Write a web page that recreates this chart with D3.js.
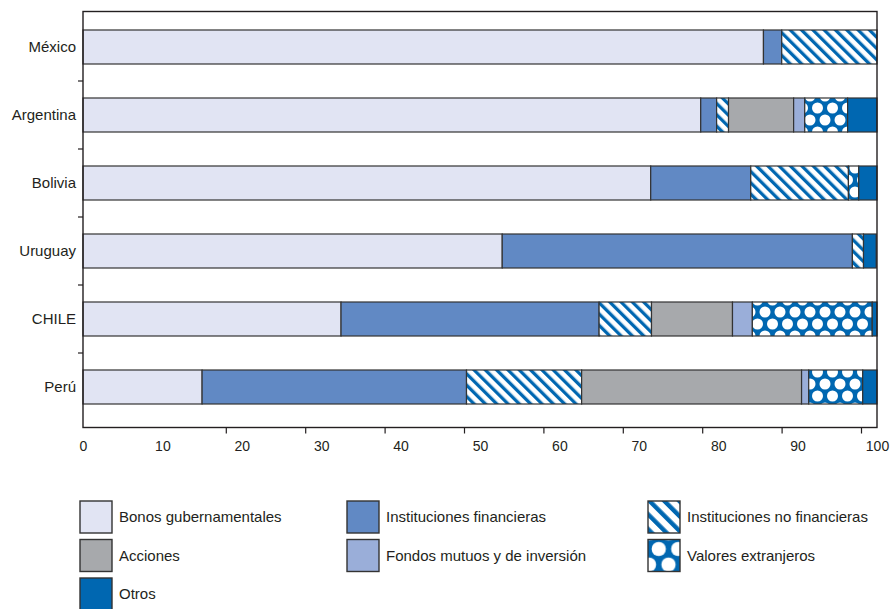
<!DOCTYPE html>
<html>
<head>
<meta charset="utf-8">
<script src="https://cdn.jsdelivr.net/npm/d3@7"></script>
<style>
  html, body { margin: 0; padding: 0; background: #fff; }
  svg { display: block; font-family: "Liberation Sans", Arial, Helvetica, sans-serif; }
</style>
</head>
<body>
<svg id="chart" width="893" height="609"></svg>
<script>
// ---- data ----
const categories = ["México", "Argentina", "Bolivia", "Uruguay", "CHILE", "Perú"];
const seriesNames = [
  "Bonos gubernamentales", "Instituciones financieras", "Instituciones no financieras",
  "Acciones", "Fondos mutuos y de inversión", "Valores extranjeros", "Otros"
];
const bonos         = [85.7, 77.8, 71.5, 52.8, 32.5, 15.0];
const financieras   = [ 2.3,  2.0, 12.6, 44.1, 32.5, 33.3];
const noFinancieras = [12.0,  1.5, 12.3,  1.4,  6.6, 14.5];
const acciones      = [ 0.0,  8.2,  0.0,  0.0, 10.2, 27.7];
const fondos        = [ 0.0,  1.4,  0.0,  0.0,  2.5,  0.9];
const valores       = [ 0.0,  5.4,  1.3,  0.0, 15.1,  6.8];
const otros         = [ 0.0,  3.8,  2.4,  1.6,  0.7,  1.8];
const tickLabels = [0, 10, 20, 30, 40, 50, 60, 70, 80, 90, 100];
const tickMarks  = [20, 30, 40, 50, 60, 70, 80, 90, 100];

(function () {
const seriesValues = [bonos, financieras, noFinancieras, acciones, fondos, valores, otros];
const table = categories.map((c, i) => {
  const row = { category: c };
  seriesNames.forEach((s, k) => row[s] = seriesValues[k][i]);
  return row;
});

// ---- styles ----
const fills = [
  "#e1e4f3", "#6189c4", "url(#stripes)", "#a7a9ac", "#9aaed9", "url(#dots)", "#0067b1"
];
const legendFills = fills.map(f => f === "url(#dots)" ? "url(#dotsLegend)"
  : f === "url(#stripes)" ? "url(#stripesLegend)" : f);
const edge = "#333";

const colX = [80, 347, 648];
const rowY = [501, 539.5, 578];
const sw = 32;

const svg = d3.select("#chart");
const defs = svg.append("defs");

// stripes patterns
function stripePattern(id, sp, w, ox, oy) {
  const p = defs.append("pattern")
    .attr("id", id).attr("patternUnits", "userSpaceOnUse")
    .attr("width", sp).attr("height", sp)
    .attr("patternTransform", `translate(${ox},${oy}) rotate(-45)`);
  p.append("rect").attr("width", sp).attr("height", sp).attr("fill", "#fff");
  p.append("rect").attr("width", w).attr("height", sp).attr("fill", "#0067b1");
}
stripePattern("stripes", 8, 3.3, 0, 0);
stripePattern("stripesLegend", 10.5, 4.4, colX[2], rowY[0]);

// dots patterns
function dotPattern(id, k, ox, oy) {
  const w = 15 * k, h = 24 * k;
  const p = defs.append("pattern")
    .attr("id", id).attr("patternUnits", "userSpaceOnUse")
    .attr("x", ox).attr("y", oy)
    .attr("width", w).attr("height", h);
  p.append("rect").attr("width", w).attr("height", h).attr("fill", "#0067b1");
  [[0,0],[w,0],[0,h],[w,h],[w/2,h/2]].forEach(([cx, cy]) =>
    p.append("circle").attr("cx", cx).attr("cy", cy).attr("r", 5.5 * k).attr("fill", "#fff"));
}
dotPattern("dots", 1, 0, 0);
const lk = 1.3;
dotPattern("dotsLegend", lk, colX[2] + sw / 2 - 7.5 * lk, rowY[1] + sw / 2 - 12 * lk);

// ---- scales ----
const pLeft = 83, pRight = 877, pTop = 11.5, pBottom = 427.5;
const x = d3.scaleLinear().domain([0, 100]).range([pLeft, pRight]);
const y = d3.scaleBand().domain(categories).range([13, 421])
  .paddingInner(0.5).paddingOuter(0.25);

const stack = d3.stack().keys(seriesNames)(table);

// bars
svg.append("g").selectAll("g").data(stack).join("g")
  .attr("fill", (d, i) => fills[i])
  .selectAll("rect").data(d => d.filter(p => p[1] - p[0] > 0)).join("rect")
  .attr("x", d => x(d[0]))
  .attr("width", d => Math.min(x(d[1]), pRight) - x(d[0]))
  .attr("y", d => y(d.data.category))
  .attr("height", y.bandwidth())
  .attr("stroke", edge).attr("stroke-width", 1.2);

// frame
svg.append("rect")
  .attr("x", pLeft).attr("y", pTop)
  .attr("width", pRight - pLeft).attr("height", pBottom - pTop)
  .attr("fill", "none").attr("stroke", "#231f20").attr("stroke-width", 1.4);

// category labels
svg.append("g").selectAll("text").data(categories).join("text")
  .attr("x", 76)
  .attr("y", d => y(d) + y.bandwidth() / 2)
  .attr("dy", "0.35em")
  .attr("text-anchor", "end")
  .attr("font-size", 15)
  .attr("fill", "#231f20")
  .text(d => d);

// left ticks at category boundaries
const gap = (y.step() - y.bandwidth()) / 2;
svg.append("g").selectAll("line").data(categories.slice(1)).join("line")
  .attr("x1", pLeft - 5).attr("x2", pLeft)
  .attr("y1", d => y(d) - gap)
  .attr("y2", d => y(d) - gap)
  .attr("stroke", "#231f20").attr("stroke-width", 1.2);

// x axis labels
const axisLabels = svg.append("g")
  .attr("transform", `translate(0,${pBottom})`)
  .call(d3.axisBottom(x).tickValues(tickLabels).tickSize(0).tickPadding(14));
axisLabels.select(".domain").remove();
axisLabels.selectAll("text")
  .attr("font-size", 14)
  .attr("font-family", "'Liberation Sans', Arial, sans-serif")
  .attr("fill", "#231f20");

// x axis tick marks (drawn slightly offset, as in the original)
const axisMarks = svg.append("g")
  .attr("transform", `translate(-16,${pBottom})`)
  .call(d3.axisBottom(x).tickValues(tickMarks).tickSize(6).tickFormat(""));
axisMarks.select(".domain").remove();
axisMarks.selectAll("line").attr("stroke", "#231f20").attr("stroke-width", 1.2);

// legend
const legend = svg.append("g").selectAll("g").data(seriesNames).join("g")
  .attr("transform", (d, i) => `translate(${colX[i % 3]},${rowY[Math.floor(i / 3)]})`);
legend.append("rect")
  .attr("width", sw).attr("height", sw)
  .attr("fill", (d, i) => legendFills[i])
  .attr("stroke", edge).attr("stroke-width", 1.4);
legend.append("text")
  .attr("x", 39).attr("y", 16).attr("dy", "0.35em")
  .attr("font-size", 15)
  .attr("fill", "#231f20")
  .text(d => d);
})();
</script>
</body>
</html>
